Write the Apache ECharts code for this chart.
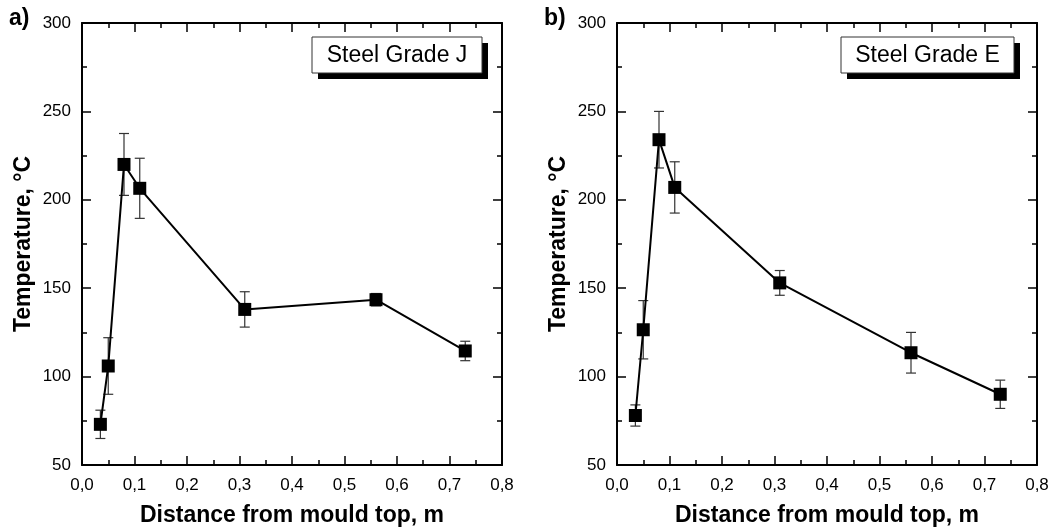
<!DOCTYPE html>
<html>
<head>
<meta charset="utf-8">
<script src="https://cdn.jsdelivr.net/npm/echarts@6/dist/echarts.min.js"></script>
<style>
  html, body { margin: 0; padding: 0; background: #fff; }
  #echarts { width: 1051px; height: 528px; }
</style>
</head>
<body>
<div id="echarts"></div>
<script>
// distance from mould top, m
const distance = [0.035, 0.05, 0.08, 0.11, 0.31, 0.56, 0.73];
// steel grade J
const tempJ = [73, 106, 220, 206.5, 138, 143.5, 114.5];
const errJ = [8, 16, 17.5, 17, 10, 3.5, 5.5];
// steel grade E
const tempE = [78, 126.5, 234, 207, 153, 113.5, 90];
const errE = [6, 16.5, 16, 14.5, 7, 11.5, 8];

const xTicks = [0, 0.1, 0.2, 0.3, 0.4, 0.5, 0.6, 0.7, 0.8];
const yTicks = [50, 100, 150, 200, 250, 300];

const font = "'Liberation Sans', Arial, sans-serif";
const black = '#000';

function xAxisPair(gridIndex) {
  const common = {
    type: 'value',
    gridIndex: gridIndex,
    min: xTicks[0],
    max: xTicks[xTicks.length - 1],
    interval: 0.1,
    splitLine: { show: false },
    axisLine: { show: true, onZero: false, lineStyle: { color: black, width: 2 } },
    axisTick: { show: true, inside: true, length: 9, lineStyle: { color: black, width: 1.5 } },
    minorTick: { show: true, splitNumber: 2, length: 5, lineStyle: { color: black, width: 1.5 } },
    minorSplitLine: { show: false }
  };
  return [
    Object.assign({}, common, {
      position: 'bottom',
      name: 'Distance from mould top, m',
      nameLocation: 'middle',
      nameGap: 39,
      nameTextStyle: { fontFamily: font, fontSize: 23, fontWeight: 'bold', color: black },
      axisLabel: {
        fontFamily: font, fontSize: 17, color: black, margin: 12,
        formatter: v => v.toFixed(1).replace('.', ',')
      }
    }),
    Object.assign({}, common, { position: 'top', axisLabel: { show: false } })
  ];
}

function yAxisPair(gridIndex) {
  const common = {
    type: 'value',
    gridIndex: gridIndex,
    min: yTicks[0],
    max: yTicks[yTicks.length - 1],
    interval: 50,
    splitLine: { show: false },
    axisLine: { show: true, onZero: false, lineStyle: { color: black, width: 2 } },
    axisTick: { show: true, inside: true, length: 9, lineStyle: { color: black, width: 1.5 } },
    minorTick: { show: true, splitNumber: 2, length: 5, lineStyle: { color: black, width: 1.5 } },
    minorSplitLine: { show: false }
  };
  return [
    Object.assign({}, common, {
      position: 'left',
      name: 'Temperature, °C',
      nameLocation: 'middle',
      nameGap: 47,
      nameTextStyle: { fontFamily: font, fontSize: 23, fontWeight: 'bold', color: black },
      axisLabel: { fontFamily: font, fontSize: 17, color: black, margin: 11 }
    }),
    Object.assign({}, common, { position: 'right', axisLabel: { show: false } })
  ];
}

function errorSeries(axisIdx, temps, errs) {
  return {
    type: 'custom',
    xAxisIndex: axisIdx,
    yAxisIndex: axisIdx,
    silent: true,
    z: 1,
    data: distance.map((x, i) => [x, temps[i] - errs[i], temps[i] + errs[i]]),
    renderItem: function (params, api) {
      const lo = api.coord([api.value(0), api.value(1)]);
      const hi = api.coord([api.value(0), api.value(2)]);
      const w = 5;
      const style = { stroke: '#333', lineWidth: 1.2 };
      return {
        type: 'group',
        children: [
          { type: 'line', shape: { x1: lo[0], y1: lo[1], x2: hi[0], y2: hi[1] }, style: style },
          { type: 'line', shape: { x1: lo[0] - w, y1: lo[1], x2: lo[0] + w, y2: lo[1] }, style: style },
          { type: 'line', shape: { x1: hi[0] - w, y1: hi[1], x2: hi[0] + w, y2: hi[1] }, style: style }
        ]
      };
    }
  };
}

function lineSeries(axisIdx, temps) {
  return {
    type: 'line',
    xAxisIndex: axisIdx,
    yAxisIndex: axisIdx,
    z: 3,
    data: distance.map((x, i) => [x, temps[i]]),
    symbol: 'rect',
    symbolSize: 13,
    lineStyle: { color: black, width: 2 },
    itemStyle: { color: black },
    animation: false
  };
}

function gradeBox(x, y, w, label) {
  return [
    { type: 'rect', shape: { x: x + 6, y: y + 6, width: w, height: 36 }, style: { fill: black }, z: 10 },
    { type: 'rect', shape: { x: x, y: y, width: w, height: 36 }, style: { fill: '#fff', stroke: '#333', lineWidth: 1 }, z: 11 },
    { type: 'text', x: x + w / 2, y: y + 19, z: 12,
      style: { text: label, font: '23px ' + font, fill: black, align: 'center', verticalAlign: 'middle' } }
  ];
}

const chart = echarts.init(document.getElementById('echarts'));
chart.setOption({
  animation: false,
  backgroundColor: '#fff',
  title: [
    { text: 'a)', left: 9, top: 7, padding: 0, textStyle: { fontFamily: font, fontSize: 23, fontWeight: 'bold', color: black } },
    { text: 'b)', left: 544, top: 7, padding: 0, textStyle: { fontFamily: font, fontSize: 23, fontWeight: 'bold', color: black } }
  ],
  grid: [
    { left: 82, top: 23, width: 420, height: 442, outerBoundsMode: 'none' },
    { left: 617, top: 23, width: 420, height: 442, outerBoundsMode: 'none' }
  ],
  xAxis: xAxisPair(0).concat(xAxisPair(1)),
  yAxis: yAxisPair(0).concat(yAxisPair(1)),
  series: [
    errorSeries(0, tempJ, errJ),
    lineSeries(0, tempJ),
    errorSeries(2, tempE, errE),
    lineSeries(2, tempE)
  ],
  graphic: gradeBox(312, 37, 170, 'Steel Grade J').concat(gradeBox(841, 37, 173, 'Steel Grade E'))
});
</script>
</body>
</html>
